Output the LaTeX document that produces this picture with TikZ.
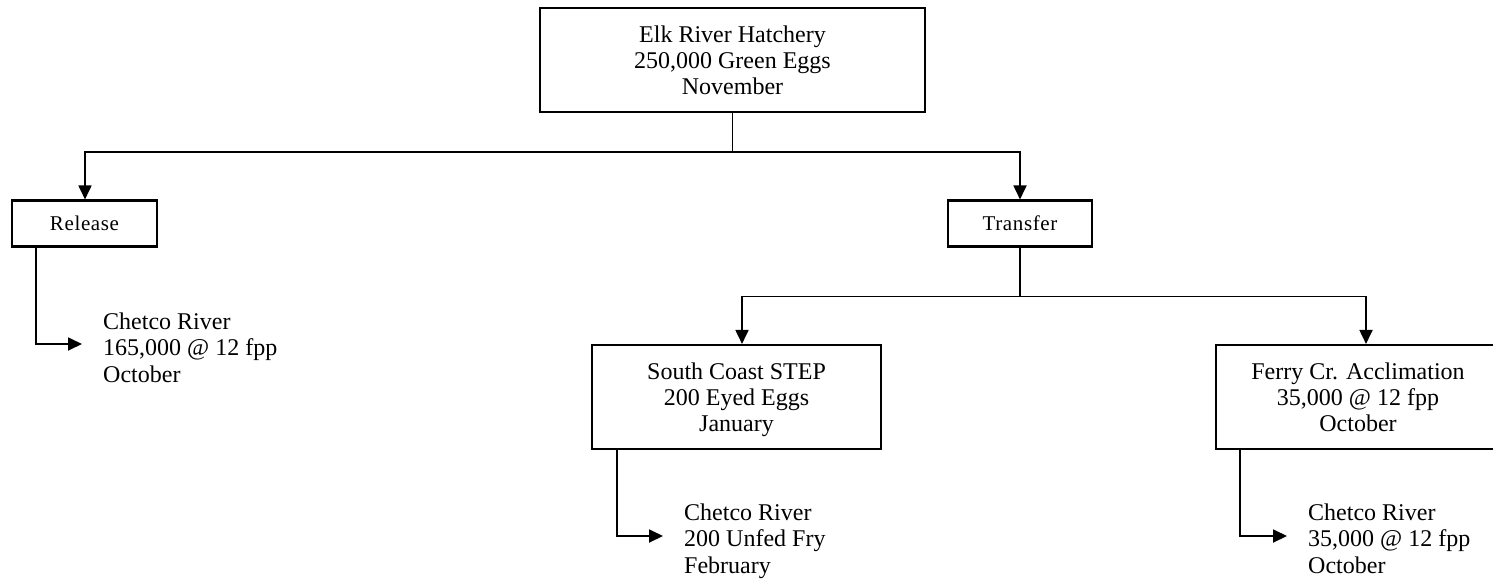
\documentclass[tikz,border=0pt]{standalone}
\usepackage{fontspec}
\setmainfont{Liberation Serif}
\usetikzlibrary{arrows.meta}
\newcommand{\topstrut}{\rule{0pt}{25.3pt}}
\newcommand{\botstrut}[1]{\rule[-#1]{0pt}{#1}}
\tikzset{
  bigbox/.style={draw, line width=2.1pt, inner sep=0pt, align=center, font=\fontsize{24}{26}\selectfont,
    execute at end node=\botstrut{7.5pt}},
  smallbox/.style={draw, line width=2.1pt, inner sep=0pt, align=center, font=\fontsize{21}{24}\selectfont\addfontfeature{LetterSpace=3}},
  plain/.style={inner sep=0pt, align=left, anchor=west, font=\fontsize{24}{26.5}\selectfont,
    execute at end node=\botstrut{7pt}},
  conn/.style={line width=1.8pt},
  arr/.style={line width=1.8pt, -{Triangle[length=14pt,width=13pt]}}
}
\begin{document}
\begin{tikzpicture}[x=1pt,y=-1pt]
\useasboundingbox (0,0) rectangle (1493,581);
\clip (0,0) rectangle (1493,581);
\node[bigbox, minimum width=385pt, minimum height=104pt] (top) at (732.5,60) {\topstrut Elk River Hatchery\\250,000 Green Eggs\\November};
\node[smallbox, minimum width=145pt, minimum height=46pt] (release) at (84.5,223.5) {Release};
\node[smallbox, minimum width=144pt, minimum height=46pt] (transfer) at (1020,223.5) {Transfer};
\node[bigbox, minimum width=289pt, minimum height=104pt] (south) at (736.5,397) {\topstrut South Coast STEP\\200 Eyed Eggs\\January};
\node[bigbox, minimum width=284pt, minimum height=104pt] (ferry) at (1358,397) {\topstrut Ferry Cr. Acclimation\\35,000 @ 12 fpp\\October};
\node[plain] (c1) at (103,351) {Chetco River\\165,000 @ 12 fpp\\October};
\node[plain] (c2) at (684,542) {Chetco River\\200 Unfed Fry\\February};
\node[plain] (c3) at (1308,542) {Chetco River\\35,000 @ 12 fpp\\October};
\coordinate (j1) at (732.5,152);
\coordinate (j2) at (1020,296.5);
\draw[conn] (top.south) -- (j1);
\draw[arr] (j1) -| ([xshift=0.5pt]release.north);
\draw[arr] (j1) -| (transfer.north);
\draw[conn] (transfer.south) -- (j2);
\draw[arr] (j2) -| ([xshift=5.5pt]south.north);
\draw[arr] (j2) -| ([xshift=8pt]ferry.north);
\coordinate (e1) at (82,344);
\coordinate (e2) at (663,536);
\coordinate (e3) at (1287,536);
\draw[arr] ([xshift=-48.5pt]release.south) |- (e1);
\draw[arr] ([xshift=-119.5pt]south.south) |- (e2);
\draw[arr] ([xshift=-118pt]ferry.south) |- (e3);
\end{tikzpicture}
\end{document}
